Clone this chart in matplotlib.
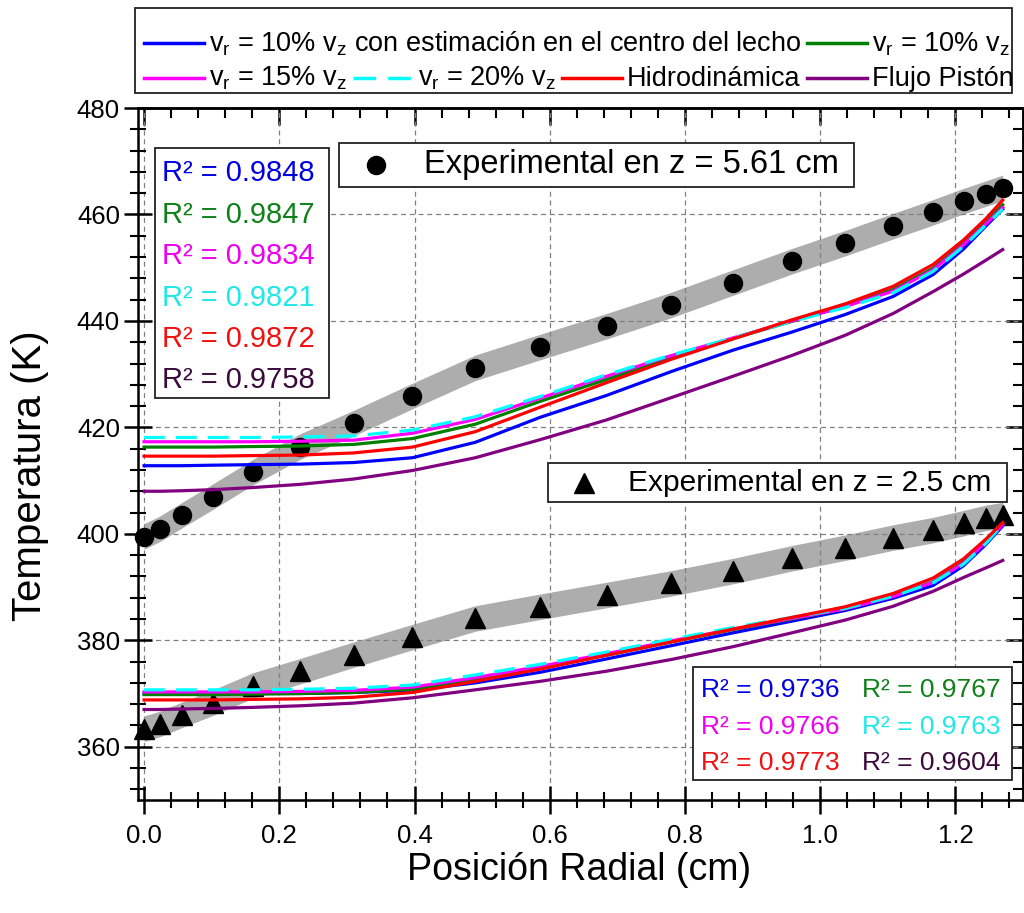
import matplotlib
matplotlib.use("Agg")
import matplotlib.pyplot as plt
from matplotlib.lines import Line2D
from matplotlib.patches import Rectangle
from matplotlib.ticker import MultipleLocator, FormatStrFormatter

plt.rcParams['font.family'] = ['Liberation Sans', 'DejaVu Sans']
plt.rcParams['mathtext.fontset'] = 'custom'
plt.rcParams['mathtext.rm'] = 'Liberation Sans'
plt.rcParams['mathtext.it'] = 'Liberation Sans:italic'

# Radial positions (cm)
r = [0.0, 0.024, 0.056, 0.102, 0.161, 0.231, 0.310, 0.397, 0.490, 0.586,
     0.684, 0.780, 0.871, 0.958, 1.037, 1.108, 1.167, 1.212, 1.245, 1.270]

# Experimental temperatures (K)
exp_z561 = [399.5, 401.0, 403.5, 407.0, 411.6, 416.4, 420.8, 425.9, 431.2, 435.1,
            439.0, 443.0, 447.2, 451.2, 454.6, 457.8, 460.4, 462.5, 463.9, 465.0]
exp_z25 = [363.4, 364.3, 366.0, 368.3, 371.5, 374.2, 377.3, 380.6, 384.1, 386.3,
           388.5, 390.7, 393.0, 395.4, 397.4, 399.3, 400.7, 402.0, 403.0, 403.5]

# Model predictions at z = 5.61 cm
up_vr10_centro = [412.8, 412.8, 412.8, 412.9, 413.0, 413.1, 413.4, 414.3, 417.2, 421.9,
                  426.0, 430.5, 434.5, 437.9, 441.2, 444.6, 448.7, 453.5, 457.8, 461.0]
up_vr10 = [416.3, 416.3, 416.3, 416.3, 416.4, 416.5, 416.8, 417.9, 420.6, 424.9,
           429.0, 433.2, 436.7, 439.9, 442.8, 445.9, 449.9, 454.6, 458.7, 461.8]
up_vr15 = [417.3, 417.3, 417.3, 417.3, 417.3, 417.4, 417.6, 418.9, 421.5, 425.5,
           429.6, 433.5, 436.8, 440.0, 442.7, 445.6, 449.6, 454.3, 458.2, 461.3]
up_vr20 = [418.1, 418.1, 418.1, 418.1, 418.1, 418.2, 418.4, 419.5, 422.0, 425.8,
           429.9, 433.6, 436.8, 439.9, 442.5, 445.3, 449.3, 454.0, 458.0, 461.0]
up_hidro = [414.6, 414.6, 414.6, 414.6, 414.7, 414.8, 415.2, 416.3, 419.2, 423.8,
            428.4, 432.8, 436.6, 440.2, 443.2, 446.5, 450.6, 455.2, 459.2, 462.7]
up_piston = [408.0, 408.0, 408.1, 408.3, 408.7, 409.3, 410.3, 411.9, 414.3, 417.7,
             421.4, 425.6, 429.6, 433.5, 437.3, 441.4, 445.5, 448.8, 451.4, 453.4]

# Model predictions at z = 2.5 cm
lo_vr10_centro = [370.0, 370.0, 370.0, 370.0, 370.0, 370.0, 370.2, 370.6, 372.0, 374.0,
                  376.5, 379.0, 381.4, 383.6, 385.6, 387.9, 390.3, 394.0, 398.0, 401.5]
lo_vr10 = [369.8, 369.8, 369.8, 369.8, 369.9, 370.0, 370.2, 370.8, 372.6, 374.8,
           377.2, 379.7, 382.0, 384.0, 385.9, 388.3, 391.0, 394.7, 398.6, 401.9]
lo_vr15 = [370.3, 370.3, 370.3, 370.3, 370.3, 370.4, 370.6, 371.2, 373.0, 375.1,
           377.5, 379.9, 382.1, 384.1, 385.9, 388.2, 390.9, 394.5, 398.4, 401.8]
lo_vr20 = [370.7, 370.7, 370.7, 370.7, 370.7, 370.8, 371.0, 371.6, 373.5, 375.5,
           377.8, 380.2, 382.4, 384.3, 386.0, 388.3, 390.8, 394.3, 398.2, 401.8]
lo_hidro = [368.8, 368.8, 368.8, 368.8, 368.9, 369.0, 369.3, 370.2, 372.3, 374.6,
            377.2, 379.7, 382.1, 384.3, 386.3, 388.8, 391.7, 395.3, 399.0, 402.1]
lo_piston = [367.0, 367.0, 367.1, 367.2, 367.4, 367.7, 368.2, 369.2, 370.7, 372.3,
             374.2, 376.4, 378.8, 381.4, 383.8, 386.4, 389.2, 391.8, 393.6, 395.0]

# Coefficients of determination
r2_z561 = ['0.9848', '0.9847', '0.9834', '0.9821', '0.9872', '0.9758']
r2_z25 = ['0.9736', '0.9767', '0.9766', '0.9763', '0.9773', '0.9604']

series_labels = [r'$\mathregular{v_r}$ = 10% $\mathregular{v_z}$ con estimación en el centro del lecho',
                 r'$\mathregular{v_r}$ = 10% $\mathregular{v_z}$',
                 r'$\mathregular{v_r}$ = 15% $\mathregular{v_z}$',
                 r'$\mathregular{v_r}$ = 20% $\mathregular{v_z}$',
                 'Hidrodinámica',
                 'Flujo Pistón']

line_colors = ['#0000FF', '#008000', '#FF00FF', '#00FFFF', '#FF0000', '#800080']
text_colors = ['#0000E0', '#10801A', '#F000F0', '#20E8E8', '#F01010', '#3A0A3A']
line_styles = ['-', '-', '-', (0, (6.5, 3.5)), '-', '-']

upper = [up_vr10_centro, up_vr10, up_vr15, up_vr20, up_hidro, up_piston]
lower = [lo_vr10_centro, lo_vr10, lo_vr15, lo_vr20, lo_hidro, lo_piston]

W, H = 1024, 913
fig = plt.figure(figsize=(W / 100, H / 100), dpi=100)
AX_L, AX_R, AX_T, AX_B = 138, 1023, 108, 800
ax = fig.add_axes([AX_L / W, 1 - AX_B / H, (AX_R - AX_L) / W, (AX_B - AX_T) / H])

ax.set_xlim(-0.009, 1.3)
ax.set_ylim(350, 480)

# Grey bands around the measured profiles
band = 2.4
ax.fill_between(r, [t - band for t in exp_z561], [t + band for t in exp_z561],
                color='#ADADAD', lw=0, zorder=1)
ax.fill_between(r, [t - band for t in exp_z25], [t + band for t in exp_z25],
                color='#ADADAD', lw=0, zorder=1)

# Measured points
ax.plot(r, exp_z561, 'o', color='black', ms=13, zorder=2.5, clip_on=False)
ax.plot(r, exp_z25, '^', color='black', ms=14, zorder=2.5, clip_on=False)

# Model curves
for ys, c, ls in zip(upper, line_colors, line_styles):
    ax.plot(r, ys, color=c, ls=ls, lw=2.3, zorder=3)
for ys, c, ls in zip(lower, line_colors, line_styles):
    ax.plot(r, ys, color=c, ls=ls, lw=2.3, zorder=3)

# Axes styling
ax.xaxis.set_major_locator(MultipleLocator(0.2))
ax.xaxis.set_minor_locator(MultipleLocator(0.04))
ax.yaxis.set_major_locator(MultipleLocator(20))
ax.yaxis.set_minor_locator(MultipleLocator(4))
ax.xaxis.set_major_formatter(FormatStrFormatter('%.1f'))
ax.yaxis.set_major_formatter(FormatStrFormatter('%d'))
ax.grid(True, which='major', ls=(0, (4, 3)), color='#808080', lw=0.9)
ax.tick_params(which='major', direction='inout', length=20, width=1.8,
               labelsize=18.5, top=False, right=False)
ax.tick_params(which='minor', direction='inout', length=12, width=1.5,
               top=False, right=False)
ax.tick_params(axis='x', which='major', pad=7)
ax.tick_params(axis='y', which='major', pad=3)
for sp in ax.spines.values():
    sp.set_linewidth(1.8)

secx = ax.secondary_xaxis('top')
secx.xaxis.set_major_locator(MultipleLocator(0.2))
secx.xaxis.set_minor_locator(MultipleLocator(0.04))
secx.tick_params(which='major', direction='in', length=12, width=1.8, labeltop=False)
secx.tick_params(which='minor', direction='in', length=7, width=1.5)
secx.spines['top'].set_linewidth(1.8)
secy = ax.secondary_yaxis('right')
secy.yaxis.set_major_locator(MultipleLocator(20))
secy.yaxis.set_minor_locator(MultipleLocator(4))
secy.tick_params(which='major', direction='in', length=12, width=1.8, labelright=False)
secy.tick_params(which='minor', direction='in', length=7, width=1.5)
secy.spines['right'].set_linewidth(1.8)

fig.text(579 / W, 1 - 880 / H, 'Posición Radial (cm)', fontsize=27,
         ha='center', va='baseline')
fig.text(30 / W, 1 - 476 / H, 'Temperatura (K)', fontsize=29,
         ha='center', va='center', rotation=90)


def fx(px):
    return px / W


def fy(py):
    return 1 - py / H


def box(x0, y0, x1, y1, lw=1.3):
    fig.add_artist(Rectangle((fx(x0), fy(y1)), (x1 - x0) / W, (y1 - y0) / H,
                             transform=fig.transFigure, facecolor='white',
                             edgecolor='#222222', lw=lw, zorder=4))


# Series legend across the top
box(135, 8, 1012, 93)
renderer = fig.canvas.get_renderer()
rows = [([0, 1], 43), ([2, 3, 4, 5], 78)]
for idxs, yy in rows:
    x = 144
    for i in idxs:
        fig.add_artist(Line2D([fx(x), fx(x + 60)], [fy(yy), fy(yy)],
                              transform=fig.transFigure, color=line_colors[i],
                              ls=line_styles[i], lw=2.5, zorder=5))
        t = fig.text(fx(x + 65), fy(yy + 8), series_labels[i], fontsize=19.5,
                     ha='left', va='baseline', zorder=5)
        x = x + 65 + t.get_window_extent(renderer).width + 6

# Experimental legends
box(339, 143, 854, 187)
fig.add_artist(Line2D([fx(376)], [fy(165)], marker='o', ms=13, color='black',
                      transform=fig.transFigure, zorder=5))
fig.text(fx(424), fy(165), 'Experimental en z = 5.61 cm', fontsize=23.5,
         ha='left', va='center', zorder=5)

box(548, 463, 1007, 502)
fig.add_artist(Line2D([fx(584)], [fy(483)], marker='^', ms=14, color='black',
                      transform=fig.transFigure, zorder=5))
fig.text(fx(628), fy(483), 'Experimental en z = 2.5 cm', fontsize=21.5,
         ha='left', va='center', zorder=5)

# R² boxes
box(155, 148, 329, 398)
for k, (val, c) in enumerate(zip(r2_z561, text_colors)):
    fig.text(fx(162), fy(173 + k * 41.5), 'R² = ' + val, color=c, fontsize=21,
             ha='left', va='center', zorder=5)

box(693, 667, 1012, 780)
for k, (val, c) in enumerate(zip(r2_z25, text_colors)):
    col, row = k % 2, k // 2
    fig.text(fx(701 + col * 161), fy(690 + row * 36.5), 'R² = ' + val, color=c,
             fontsize=19, ha='left', va='center', zorder=5)

fig.savefig('out.png', dpi=100)
